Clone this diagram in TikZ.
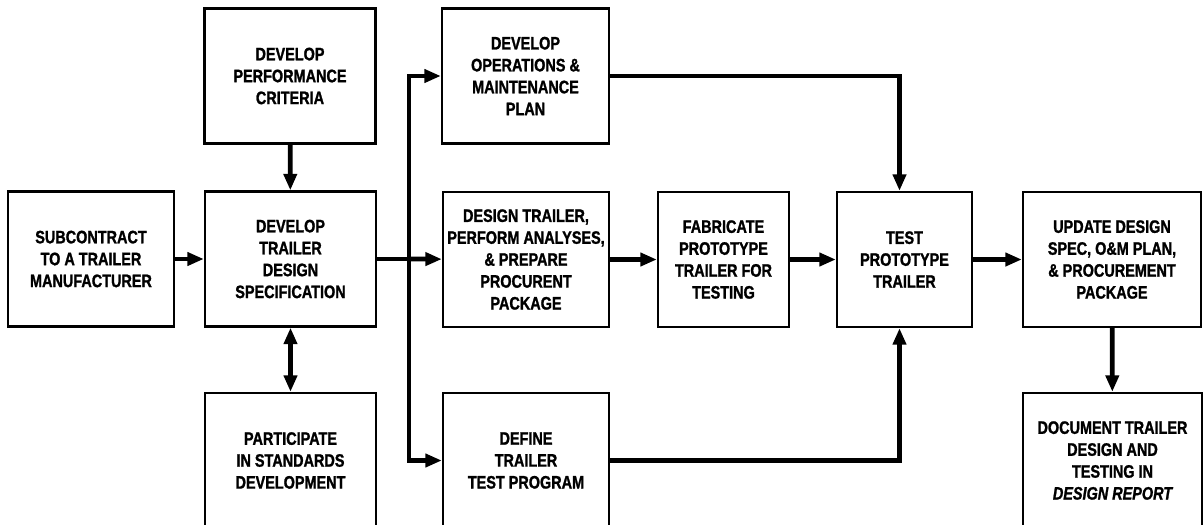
\documentclass[tikz,border=0pt]{standalone}
\usepackage{fontspec}
\setmainfont{Liberation Sans}[FakeStretch=0.8,
	BoldFeatures={FakeBold=1.3}, BoldItalicFeatures={FakeBold=1.3}]
\newfontfamily\reportfont{Liberation Sans Bold Italic}[FakeStretch=0.8, FakeBold=1.3]
\usetikzlibrary{arrows.meta}

\begin{document}
\begin{tikzpicture}[x=0.03cm, y=-0.03cm,
					>={Triangle[length=14pt, width=11pt]},
					line width=4pt,
					box/.style={draw, line width=2pt, align=center, inner sep=0pt,
						minimum height=4.05cm,
						font=\fontsize{15.4}{18.7}\selectfont\bfseries}]

	\fill[white] (0,0) rectangle (1203,524);
	\useasboundingbox (0,0) rectangle (1203,524);
	\clip (0,0) rectangle (1203,524);

	% left column
	\node[box, minimum width=4.98cm] (sub) at (91,259) {SUBCONTRACT\\TO A TRAILER\\MANUFACTURER};
	\node[box, minimum width=5.13cm] (perf) at (290,76) {DEVELOP\\PERFORMANCE\\CRITERIA};
	\node[box, minimum width=5.13cm] (spec) at (290.5,259) {DEVELOP\\TRAILER\\DESIGN\\SPECIFICATION};
	\node[box, minimum width=5.13cm] (part) at (290.5,460.5) {PARTICIPATE\\IN STANDARDS\\DEVELOPMENT};

	% middle column
	\node[box, minimum width=5.01cm] (om) at (525.5,76) {DEVELOP\\OPERATIONS \&\\MAINTENANCE\\PLAN};
	\node[box, minimum width=4.98cm] (dsn) at (526,259.5) {DESIGN TRAILER,\\PERFORM ANALYSES,\\\& PREPARE\\PROCURENT\\PACKAGE};
	\node[box, minimum width=4.98cm] (def) at (526,460.5) {DEFINE\\TRAILER\\TEST PROGRAM};
	\node[box, minimum width=3.93cm] (fab) at (723.5,259.5) {FABRICATE\\PROTOTYPE\\TRAILER FOR\\TESTING};

	% right side
	\node[box, minimum width=4.05cm] (test) at (904.5,259.5) {TEST\\PROTOTYPE\\TRAILER};
	\node[box, minimum width=5.34cm] (upd) at (1112,259.5) {UPDATE DESIGN\\SPEC, O\&M PLAN,\\\& PROCUREMENT\\PACKAGE};
	\node[box, minimum width=5.37cm] (doc) at (1112.5,460.5) {DOCUMENT TRAILER\\DESIGN AND\\TESTING IN\\{\reportfont DESIGN REPORT}};

	\coordinate (bus) at (409,259);
	\coordinate (tin) at ([xshift=-0.15cm]test.north);
	\coordinate (tout) at ([xshift=-0.15cm]test.south);

	\path[->]	(sub) edge (spec)
			(perf) edge (spec)
			(dsn) edge (fab)
			(fab) edge (test)
			(test) edge (upd)
			(upd) edge (doc)
			(bus) edge (dsn)
;
	\draw[<->] (spec) -- (part);
	\draw (spec.east) -- (bus);
	\draw[->] (bus) |- (om.west);
	\draw[->] (bus) |- (def.west);
	\draw[->] (om.east) -| (tin);
	\draw[->] (def.east) -| (tout);
\end{tikzpicture}
\end{document}
